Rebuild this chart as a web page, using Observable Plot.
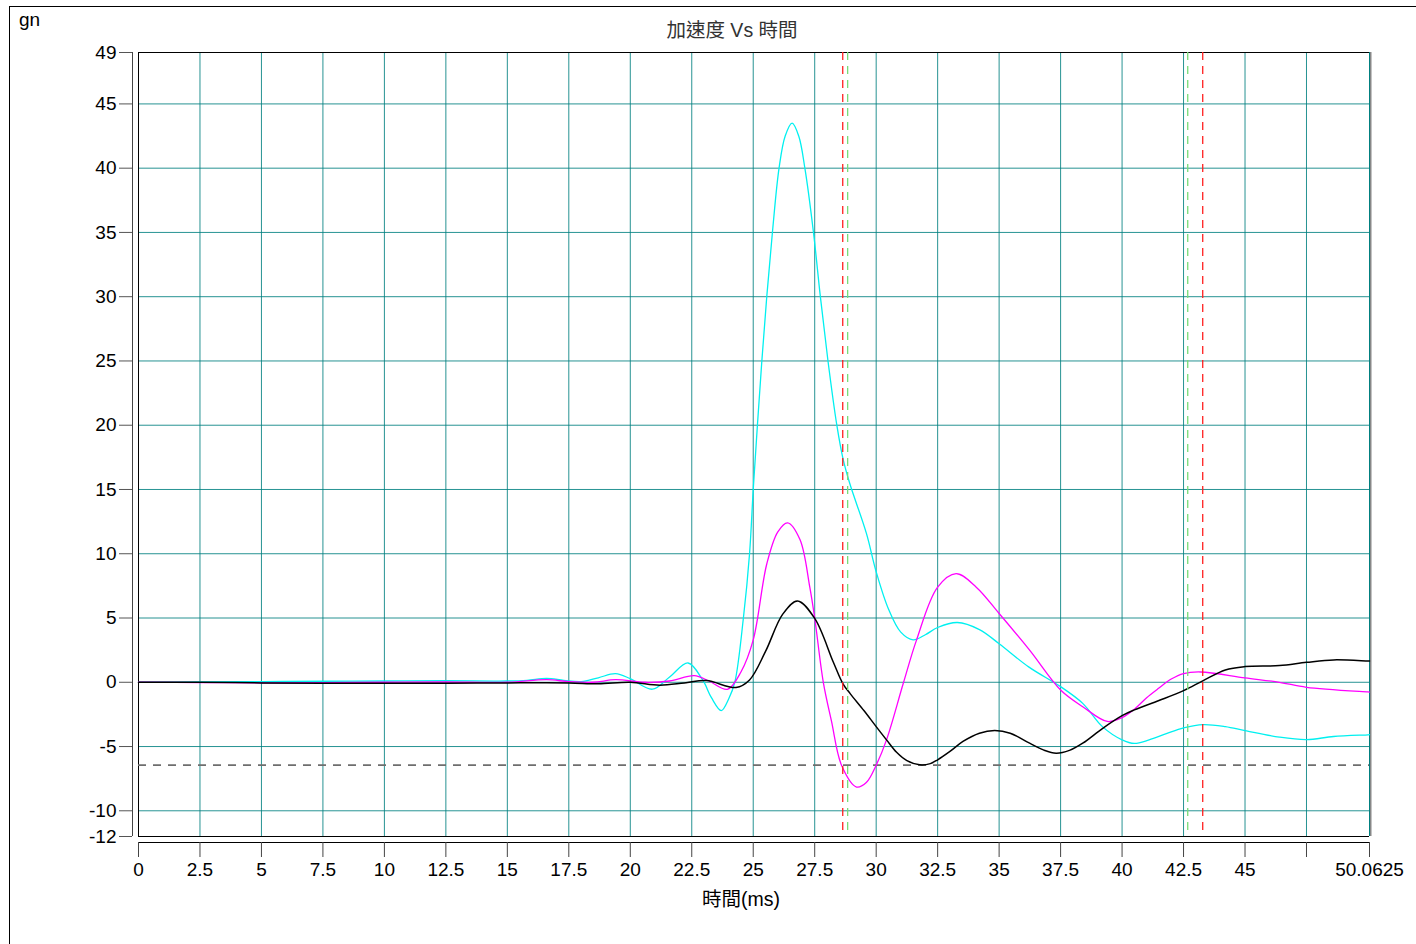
<!DOCTYPE html>
<html><head><meta charset="utf-8">
<script src="https://cdn.jsdelivr.net/npm/d3@7"></script>
<script src="https://cdn.jsdelivr.net/npm/@observablehq/plot@0.6"></script>
<style>
body{margin:0;background:#fff;font-family:"Liberation Sans",Arial,"Noto Sans CJK TC",sans-serif;}
#wrap{position:relative;width:1416px;height:944px;overflow:hidden;}
#border{position:absolute;left:9px;top:6px;width:1420px;height:950px;border-left:1.5px solid #000;border-top:1.5px solid #000;}
#gn{position:absolute;left:19px;top:9px;font-size:19px;color:#000;}
#title{position:absolute;left:532px;width:400px;top:19px;text-align:center;font-size:19.5px;color:#333;line-height:22px;}
#chart{position:absolute;left:0;top:0;}
</style></head><body>
<div id="wrap"><div id="border"></div><div id="chart"></div><div id="gn">gn</div><div id="title"></div></div>
<script>
const chartTitle = "加速度 Vs 時間";
const xLabel = "時間(ms)";
const xTicks = [0,2.5,5,7.5,10,12.5,15,17.5,20,22.5,25,27.5,30,32.5,35,37.5,40,42.5,45,47.5,50.0625];
const xTickLabels = ["0","2.5","5","7.5","10","12.5","15","17.5","20","22.5","25","27.5","30","32.5","35","37.5","40","42.5","45","","50.0625"];
const yTicks = [49,45,40,35,30,25,20,15,10,5,0,-5,-10,-12];
const yGrid = [45,40,35,30,25,20,15,10,5,0,-5,-10];
const xGrid = [2.5,5,7.5,10,12.5,15,17.5,20,22.5,25,27.5,30,32.5,35,37.5,40,42.5,45,47.5,50.0625];

const cyanT = [0,2.5,5,7.5,10,12.5,15,15.8,16.6,17.3,18,18.7,19.4,20,20.9,21.6,22.35,22.95,23.3,23.7,24.0,24.25,24.6,24.85,25.0,25.17,25.35,25.55,25.78,26.05,26.3,26.58,26.85,27.1,27.45,27.73,28.04,28.4,28.65,28.92,29.6,30.0,30.5,31.0,31.5,32.0,32.5,33.3,34.2,35,36.2,37.5,38.4,39.2,40,40.5,41.1,41.8,42.5,43.3,44.2,45,46.4,47.5,48.6,50,50.0625];
const cyanV = [0,0.02,0.05,0.08,0.1,0.12,0.1,0.15,0.3,0.15,0.05,0.35,0.67,0.28,-0.54,0.41,1.5,0.16,-1.2,-2.2,-1.3,0,5,10,15,20,25,30,35,40,42.5,43.5,42.5,40,35,30,25,20,17.4,15.5,11.6,8.6,5.7,3.9,3.3,3.7,4.26,4.65,4.1,3.0,1.2,-0.34,-1.64,-3.45,-4.48,-4.76,-4.48,-4.0,-3.55,-3.29,-3.45,-3.76,-4.27,-4.46,-4.22,-4.09,-4.08];

const magT = [0,2.5,5,7.5,10,12.5,15,16.6,17.5,18.5,19.4,20.6,21.6,22.6,23.2,23.95,24.5,25.0,25.55,26.0,26.4,26.9,27.3,27.5,27.85,28.18,28.6,29.2,29.6,30.0,30.42,31.1,31.64,32.5,33.25,34.07,35,36.24,37.5,38.4,39.4,40.0,40.5,41.0,41.5,42.0,42.5,43.2,45,46.4,47.5,50,50.0625];
const magV = [0,-0.02,-0.05,-0.03,0,0.02,0,0.2,0.05,0,0.2,0,0.1,0.52,0.1,-0.55,0.8,3.3,9.2,11.7,12.4,11.1,7.4,5,0,-3,-6.5,-8.15,-7.8,-6.45,-4.48,-0.1,3.28,7.4,8.45,7.4,5.35,2.5,-0.6,-1.9,-3.05,-2.75,-2.1,-1.2,-0.45,0.25,0.68,0.8,0.34,0,-0.39,-0.75,-0.76];

const blackT = [0,2.5,5,7.5,10,12.5,15,17.5,18.7,20,21.2,22.2,23.1,24.3,24.85,25.5,26.2,26.8,27.5,28.25,28.65,28.95,29.5,30.0,30.42,30.83,31.25,31.77,32.2,32.5,33.0,33.53,34.2,34.82,35.45,36.24,36.8,37.32,37.86,38.4,39.2,40.0,40.5,41.5,42.5,43.3,44.2,45,46.4,47.5,48.6,50,50.0625];
const blackV = [0,0,-0.05,-0.08,-0.08,-0.08,-0.05,-0.05,-0.12,0,-0.23,-0.05,0.13,-0.41,0.18,2.4,5.3,6.33,4.97,1.6,-0.12,-0.9,-2.2,-3.45,-4.48,-5.45,-6.1,-6.42,-6.33,-6.03,-5.38,-4.6,-3.96,-3.76,-3.96,-4.74,-5.26,-5.52,-5.3,-4.74,-3.6,-2.6,-2.15,-1.42,-0.65,0.13,0.96,1.22,1.3,1.55,1.74,1.66,1.66];

const redLines = [28.64, 43.28];
const greenLines = [28.84, 42.67];
const gateLevel = [-6.45];

const mk = (T, V) => T.map((t, i) => ({t, v: V[i]}));
const cyan = mk(cyanT, cyanV), mag = mk(magT, magV), blk = mk(blackT, blackV);
const font = '"Liberation Sans", Arial, "Noto Sans CJK TC", sans-serif';

const chart = Plot.plot({
  width: 1416, height: 944,
  marginTop: 52, marginLeft: 138, marginRight: 47, marginBottom: 108,
  style: {fontFamily: font, fontSize: "19px", background: "transparent", color: "#000"},
  x: {domain: [0, 50.0625]},
  y: {domain: [-12, 49]},
  marks: [
    Plot.gridX(xGrid, {stroke: "#008080", strokeOpacity: 0.85}),
    Plot.gridY(yGrid, {stroke: "#008080", strokeOpacity: 0.85}),
    Plot.ruleY([49, -12], {stroke: "#000"}),
    Plot.ruleX([0], {stroke: "#000"}),
    Plot.ruleX([50.0625], {stroke: "#888", strokeWidth: 2, dx: 1}),
    Plot.ruleX([50.0625], {stroke: "#008080", strokeWidth: 1}),
    Plot.ruleX([0], {y1: d => -12, y2: d => 49, dx: -6, stroke: "#444"}),
    Plot.ruleY([-12], {x1: d => 0, x2: d => 50.0625, dy: 6, stroke: "#000"}),
    Plot.axisY(yTicks, {anchor: "left", dx: -6, tickSize: 13, tickPadding: 3, label: null, stroke: "#555", fontSize: 19, fill: "#000",
      tickFormat: d => String(d)}),
    Plot.axisX(xTicks, {anchor: "bottom", dy: 6, tickSize: 15, tickPadding: 5, label: null, stroke: "#444", fontSize: 19, fill: "#000",
      tickFormat: d => xTickLabels[xTicks.indexOf(d)]}),
    Plot.text([xLabel], {text: d => d, frameAnchor: "bottom", dy: 69, dx: -13, fontSize: 19.5, fill: "#000"}),
    Plot.ruleY(gateLevel, {stroke: "#6e6e6e", strokeWidth: 1.6, strokeDasharray: "8,7"}),
    Plot.line(cyan, {x: "t", y: "v", stroke: "#00f0f0", strokeWidth: 1.3, curve: "catmull-rom"}),
    Plot.line(mag, {x: "t", y: "v", stroke: "#ff00ff", strokeWidth: 1.3, curve: "catmull-rom"}),
    Plot.line(blk, {x: "t", y: "v", stroke: "#000", strokeWidth: 1.5, curve: "catmull-rom"}),
    Plot.ruleX(greenLines, {stroke: "#77dd77", strokeWidth: 1.3, strokeDasharray: "8,6"}),
    Plot.ruleX(redLines, {stroke: "#ff2020", strokeWidth: 1.3, strokeDasharray: "8,6"})
  ]
});
document.getElementById("chart").appendChild(chart);
document.getElementById("title").textContent = chartTitle;
</script>
</body></html>
